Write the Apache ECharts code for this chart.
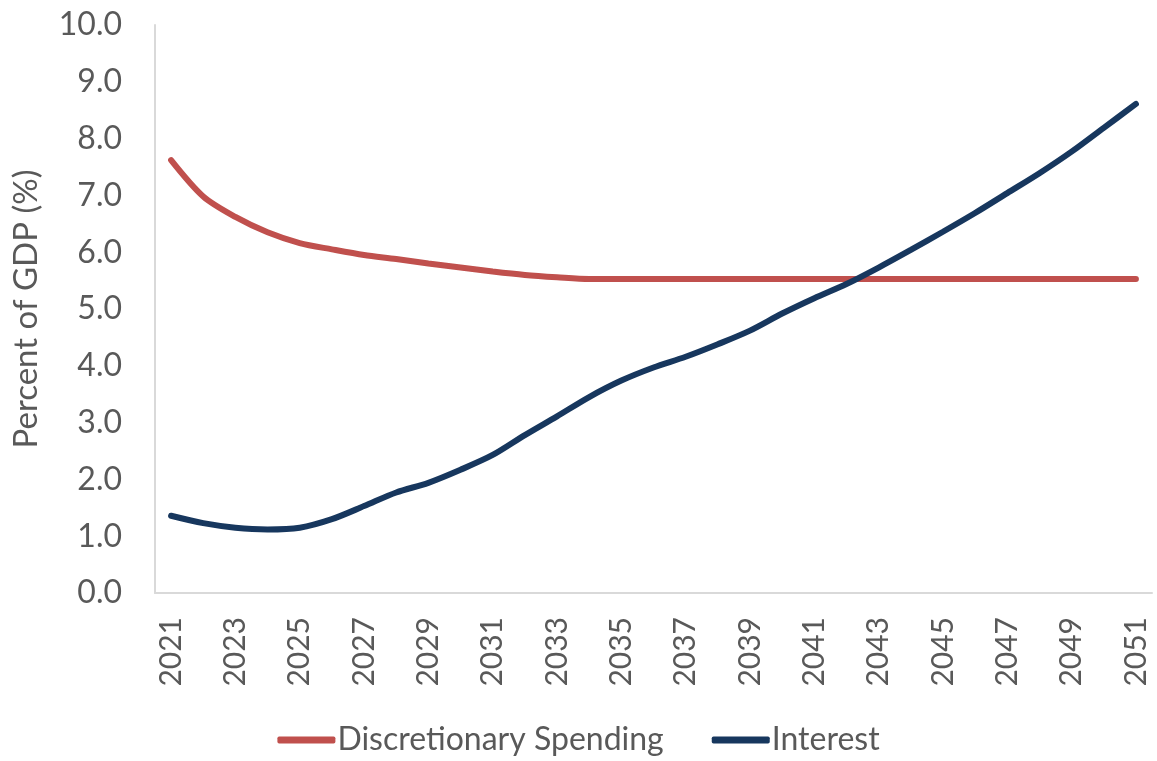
<!DOCTYPE html>
<html>
<head>
<meta charset="utf-8">
<script src="https://cdn.jsdelivr.net/npm/echarts@6/dist/echarts.min.js"></script>
<style>
  html, body { margin: 0; padding: 0; background: #fff; }
  #main { width: 1157px; height: 761px; }
</style>
</head>
<body>
<div id="main"></div>
<script>
var chart = echarts.init(document.getElementById('main'));

// years 2021..2051
var years = [];
for (var y = 2021; y <= 2051; y++) years.push(String(y));

var discretionary = [7.62, 6.98, 6.62, 6.35, 6.16, 6.05, 5.95, 5.88, 5.80, 5.73,
                     5.66, 5.60, 5.56, 5.53, 5.53, 5.53, 5.53, 5.53, 5.53, 5.53,
                     5.53, 5.53, 5.53, 5.53, 5.53, 5.53, 5.53, 5.53, 5.53, 5.53, 5.53];
var interest = [1.36, 1.23, 1.15, 1.12, 1.15, 1.30, 1.53, 1.77, 1.94, 2.17,
                2.43, 2.78, 3.11, 3.45, 3.74, 3.97, 4.16, 4.38, 4.62, 4.92,
                5.19, 5.44, 5.73, 6.04, 6.36, 6.69, 7.04, 7.39, 7.77, 8.19, 8.61];

var textColor = '#595959';
var font = 'Lato';

var option = {
    backgroundColor: '#fff',
    animation: false,
    grid: {
        left: 155,
        right: 5,
        top: 25,
        bottom: 168,
        outerBoundsMode: 'none'
    },
    legend: {
        bottom: 0,
        left: 'center',
        icon: 'roundRect',
        itemWidth: 58,
        itemHeight: 7,
        itemGap: 48,
        textStyle: {
            color: textColor,
            fontSize: 32,
            fontFamily: font,
            padding: [0, 0, 0, -3]
        },
        data: ['Discretionary Spending', 'Interest']
    },
    xAxis: {
        type: 'category',
        data: years,
        boundaryGap: true,
        axisLine: {
            show: true,
            lineStyle: { color: '#D9D9D9', width: 2 }
        },
        axisTick: { show: false },
        axisLabel: {
            interval: 1,
            rotate: 90,
            margin: 24,
            color: textColor,
            fontSize: 30,
            fontFamily: font
        }
    },
    yAxis: {
        type: 'value',
        min: 0,
        max: 10,
        interval: 1,
        name: 'Percent of GDP (%)',
        nameLocation: 'middle',
        nameGap: 112,
        nameRotate: 90,
        nameTextStyle: {
            color: textColor,
            fontSize: 33,
            fontFamily: font
        },
        axisLine: {
            show: true,
            lineStyle: { color: '#D9D9D9', width: 2 }
        },
        axisTick: { show: false },
        splitLine: { show: false },
        axisLabel: {
            margin: 33,
            color: textColor,
            fontSize: 32,
            fontFamily: font,
            formatter: function (v) { return v.toFixed(1); }
        }
    },
    series: [{
        name: 'Discretionary Spending',
        type: 'line',
        data: discretionary,
        smooth: 0.3,
        symbol: 'none',
        itemStyle: { color: '#C0504D' },
        lineStyle: { color: '#C0504D', width: 6, cap: 'round' }
    }, {
        name: 'Interest',
        type: 'line',
        data: interest,
        smooth: 0.3,
        symbol: 'none',
        itemStyle: { color: '#17375E' },
        lineStyle: { color: '#17375E', width: 6, cap: 'round' }
    }]
};
chart.setOption(option);
</script>
</body>
</html>
